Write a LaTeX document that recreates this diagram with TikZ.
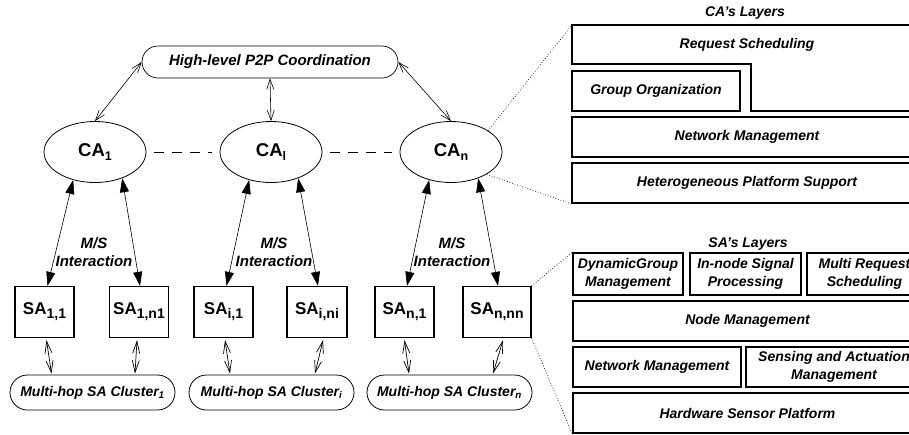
\documentclass[tikz,border=0pt]{standalone}
\usepackage{fontspec}
\setmainfont{Liberation Sans}
\usetikzlibrary{arrows.meta,shapes.geometric,shapes.misc,calc}
\newcommand\casub[1]{\raisebox{-4pt}{\fontsize{12.5}{12.5}\selectfont #1}}
\newcommand\sasub[1]{\raisebox{-4pt}{\fontsize{14}{14}\selectfont #1}}
\tikzset{
  lab/.style={font=\fontsize{14}{17.5}\selectfont\bfseries\itshape, inner sep=0pt, align=center},
  mslab/.style={font=\fontsize{15}{18}\selectfont\bfseries\itshape, inner sep=0pt, align=center},
  p2pbox/.style={draw, rounded rectangle, line width=0.7pt, minimum width=256pt, minimum height=32pt, inner sep=0pt, font=\fontsize{15}{15}\selectfont\bfseries\itshape},
  ca/.style={draw, ellipse, line width=0.8pt, minimum width=102pt, minimum height=61pt, inner sep=0pt, font=\fontsize{18.5}{18.5}\selectfont\bfseries},
  sa/.style={draw, rectangle, line width=1.3pt, minimum width=59pt, minimum height=51pt, inner sep=0pt, font=\fontsize{17}{17}\selectfont\bfseries},
  clus/.style={draw, rounded rectangle, line width=0.8pt, minimum width=165pt, minimum height=35pt, inner sep=0pt, font=\fontsize{14}{14}\selectfont\bfseries\itshape},
  lbox/.style={draw, line width=1.6pt, inner sep=0pt, align=center, font=\fontsize{14}{17.5}\selectfont\bfseries\itshape},
  ttl/.style={inner sep=0pt, font=\fontsize{14}{14}\selectfont\bfseries\itshape},
  oarr/.style={line width=0.6pt, {Straight Barb[length=10pt,width=7pt]}-{Straight Barb[length=10pt,width=7pt]}},
  oarrs/.style={line width=0.7pt, {Straight Barb[length=12pt,width=7pt]}-{Straight Barb[length=12pt,width=7pt]}},
  msarr/.style={line width=0.6pt, {Triangle[length=14pt,width=9pt]}-{Triangle[length=14pt,width=9pt]}},
  dashl/.style={line width=0.7pt, dash pattern=on 10pt off 8pt},
  dotl/.style={line width=0.7pt, dotted},
}
\begin{document}
\begin{tikzpicture}[x=1pt,y=-1pt]
\useasboundingbox (0,0) rectangle (909,434);
\clip (0,0) rectangle (909,434);

% coordination
\node[p2pbox] (p2p) at (270,62) {High-level P2P Coordination};

% CAs
\node[ca] (ca1) at (95,152) {CA\casub{1}};
\node[ca] (cai) at (271,152) {CA\casub{l}};
\node[ca] (can) at (451,152) {CA\casub{n}};

\draw[dashl] ([xshift=8pt]ca1.east) -- ([xshift=-8pt]cai.west);
\draw[dashl] ([xshift=8pt]cai.east) -- ([xshift=-8pt]can.west);

\draw[oarr] (p2p.west) -- (ca1.north);
\draw[oarr] (p2p.south) -- (cai.north);
\draw[oarr] (p2p.east) -- (can.north);

% SAs
\node[sa] (sa11) at (44.5,312) {SA\sasub{1,1}};
\node[sa] (sa1n) at (139,312) {SA\sasub{1,n1}};
\node[sa] (sai1) at (223.5,312) {SA\sasub{i,1}};
\node[sa, minimum width=60pt] (sain) at (317,312) {SA\sasub{i,ni}};
\node[sa] (san1) at (404.5,312) {SA\sasub{n,1}};
\node[sa, minimum width=68pt] (sann) at (497,312) {SA\sasub{n,nn}};

\draw[msarr] (ca1.232) -- ([xshift=3pt]sa11.north);
\draw[msarr] (ca1.316) -- ([xshift=1pt]sa1n.north);
\draw[msarr] (cai.232) -- ([xshift=3pt]sai1.north);
\draw[msarr] (cai.316) -- ([xshift=1pt]sain.north);
\draw[msarr] (can.232) -- ([xshift=2.5pt]san1.north);
\draw[msarr] (can.316) -- ([xshift=1pt]sann.north);

\node[mslab] (ms1) at (94,252) {M/S\\Interaction};
\node[mslab] (msi) at (274,252) {M/S\\Interaction};
\node[mslab] (msn) at (452,252) {M/S\\Interaction};

% clusters
\node[clus] (c1) at (92.5,392.5) {Multi-hop SA Cluster\textsubscript{1}};
\node[clus] (ci) at (271.5,392.5) {Multi-hop SA Cluster\textsubscript{i}};
\node[clus] (cn) at (449.5,392.5) {Multi-hop SA Cluster\textsubscript{n}};

\draw[oarrs] ($(sa11.south)+(2,2)$) -- ($(sa11.south |- c1.north)+(7,-1)$);
\draw[oarrs] ($(sa1n.south)+(-2,2)$) -- ($(sa1n.south |- c1.north)+(-4,-1)$);
\draw[oarrs] ($(sai1.south)+(1.5,2)$) -- ($(sai1.south |- ci.north)+(6.5,-1)$);
\draw[oarrs] ($(sain.south)+(6,2)$) -- ($(sain.south |- ci.north)+(-2,-1)$);
\draw[oarrs] ($(san1.south)+(0,2)$) -- ($(san1.south |- cn.north)+(4.5,-1)$);
\draw[oarrs] ($(sann.south)+(6,2)$) -- ($(sann.south |- cn.north)+(-4,-1)$);

% CA's layers
\node[ttl] (catitle) at (745,13) {CA's Layers};
\coordinate (rsnw) at (572,25);
\draw[line width=1.6pt] (rsnw) -- (922,25) -- (922,111) -- (751,111) -- (751,64) -- (572,64) -- cycle;
\node[lab] (rs) at (747,45) {Request Scheduling};
\node[lbox, minimum width=168pt, minimum height=40pt] (go) at (656,91) {Group Organization};
\node[lbox, minimum width=350pt, minimum height=40pt] (nm) at (747,137) {Network Management};
\node[lbox, minimum width=350pt, minimum height=40pt] (hps) at (747,183) {Heterogeneous Platform Support};

\draw[dotl] (can.30) -- (rsnw);
\draw[dotl] (can.328) -- (hps.south west);

% SA's layers
\node[ttl] (satitle) at (748,244) {SA's Layers};
\node[lbox, minimum width=110pt, minimum height=42pt] (dgm) at (628,274) {DynamicGroup\\Management};
\node[lbox, minimum width=111pt, minimum height=42pt] (isp) at (745.5,274) {In-node Signal\\Processing};
\node[lbox, minimum width=115pt, minimum height=42pt] (mrs) at (864.5,274) {Multi Request\\Scheduling};
\node[lbox, minimum width=349pt, minimum height=40pt] (ndm) at (747.5,321) {Node Management};
\node[lbox, minimum width=168pt, minimum height=40pt] (nwm) at (657,367) {Network Management};
\node[lbox, minimum width=176pt, minimum height=40pt] (sam) at (834,367) {Sensing and Actuation\\Management};
\node[lbox, minimum width=349pt, minimum height=40pt] (hsp) at (747.5,413) {Hardware Sensor Platform};

\draw[dotl] (sann.north east) -- (dgm.north west);
\draw[dotl] (sann.south east) -- (hsp.south west);
\end{tikzpicture}
\end{document}
